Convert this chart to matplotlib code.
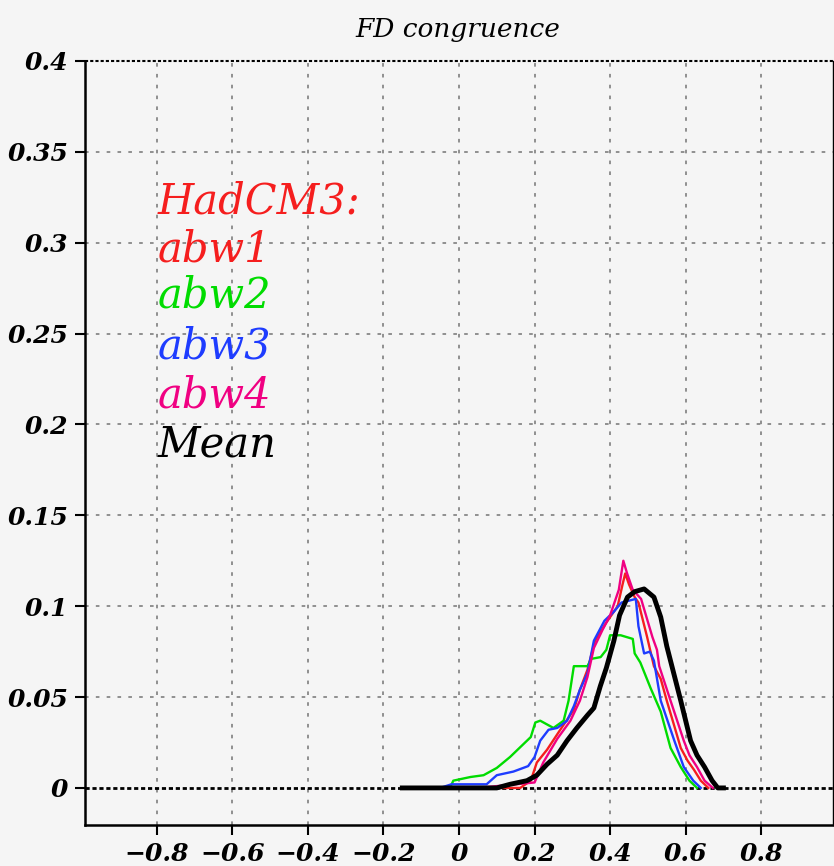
import matplotlib
matplotlib.use("Agg")
import matplotlib.pyplot as plt

# FD congruence histograms (HadCM3 runs)
x_abw1 = [0.0, 0.15, 0.162, 0.19, 0.206, 0.233, 0.268, 0.304, 0.32, 0.34, 0.36, 0.39, 0.42, 0.433, 0.44,
          0.45, 0.465, 0.475, 0.498, 0.516, 0.534, 0.55, 0.57, 0.587, 0.605, 0.622, 0.64, 0.66]
y_abw1 = [0.0, 0.0, 0.0, 0.004, 0.014, 0.021, 0.032, 0.043, 0.054, 0.065, 0.081, 0.091, 0.100, 0.112, 0.118,
          0.112, 0.105, 0.102, 0.083, 0.067, 0.060, 0.048, 0.034, 0.022, 0.015, 0.010, 0.004, 0.0]

x_abw2 = [-0.15, -0.024, -0.015, 0.03, 0.065, 0.10, 0.135, 0.17, 0.19, 0.202, 0.215, 0.25, 0.277, 0.29,
          0.304, 0.34, 0.35, 0.375, 0.39, 0.40, 0.428, 0.46, 0.465, 0.48, 0.507, 0.534, 0.56, 0.587, 0.61, 0.63]
y_abw2 = [0.0, 0.0, 0.004, 0.006, 0.007, 0.011, 0.017, 0.024, 0.028, 0.036, 0.037, 0.033, 0.037, 0.048,
          0.067, 0.067, 0.071, 0.072, 0.076, 0.084, 0.084, 0.082, 0.074, 0.069, 0.055, 0.042, 0.022, 0.0115, 0.004, 0.0]

x_abw3 = [-0.05, -0.02, 0.073, 0.10, 0.144, 0.183, 0.20, 0.215, 0.237, 0.26, 0.286, 0.304, 0.32, 0.34,
          0.357, 0.385, 0.41, 0.43, 0.468, 0.475, 0.49, 0.505, 0.516, 0.534, 0.57, 0.595, 0.62, 0.64]
y_abw3 = [0.0, 0.002, 0.002, 0.007, 0.009, 0.012, 0.017, 0.026, 0.032, 0.033, 0.037, 0.045, 0.054, 0.063,
          0.081, 0.092, 0.097, 0.102, 0.104, 0.089, 0.074, 0.075, 0.070, 0.048, 0.026, 0.0115, 0.004, 0.0]

x_abw4 = [0.05, 0.2, 0.223, 0.26, 0.295, 0.32, 0.34, 0.357, 0.38, 0.40, 0.423, 0.435, 0.445, 0.46, 0.482,
          0.512, 0.524, 0.53, 0.56, 0.595, 0.61, 0.63, 0.65, 0.672]
y_abw4 = [0.0, 0.003, 0.014, 0.027, 0.037, 0.048, 0.061, 0.077, 0.087, 0.095, 0.109, 0.125, 0.118, 0.109, 0.104,
          0.083, 0.076, 0.067, 0.048, 0.026, 0.018, 0.0115, 0.004, 0.0]

x_mean = [-0.15, 0.10, 0.135, 0.18, 0.206, 0.233, 0.26, 0.286, 0.312, 0.34, 0.357, 0.374, 0.39, 0.41, 0.425,
          0.446, 0.465, 0.49, 0.516, 0.534, 0.55, 0.587, 0.613, 0.63, 0.65, 0.67, 0.685, 0.70]
y_mean = [0.0, 0.0, 0.002, 0.004, 0.007, 0.013, 0.018, 0.026, 0.033, 0.040, 0.044, 0.056, 0.066, 0.081, 0.095,
          0.105, 0.108, 0.1095, 0.105, 0.094, 0.078, 0.048, 0.026, 0.018, 0.0115, 0.004, 0.0, 0.0]

series = [("abw1", x_abw1, y_abw1, "#f51e1e", 1.7),
          ("abw2", x_abw2, y_abw2, "#00dc00", 1.7),
          ("abw3", x_abw3, y_abw3, "#1e3cff", 1.7),
          ("abw4", x_abw4, y_abw4, "#f00082", 1.7),
          ("Mean", x_mean, y_mean, "black", 3.5)]

xticks = [-0.8, -0.6, -0.4, -0.2, 0, 0.2, 0.4, 0.6, 0.8]
xticklabels = ["−0.8", "−0.6", "−0.4", "−0.2", "0", "0.2", "0.4", "0.6", "0.8"]
yticks = [0, 0.05, 0.1, 0.15, 0.2, 0.25, 0.3, 0.35, 0.4]
yticklabels = ["0", "0.05", "0.1", "0.15", "0.2", "0.25", "0.3", "0.35", "0.4"]

bg = "#f5f5f5"
tfont = dict(family="DejaVu Serif", style="italic", weight="bold")

fig = plt.figure(figsize=(8.34, 8.66), dpi=100, facecolor=bg)
ax = fig.add_axes([85/834, 1-825/866, 748/834, 764/866], facecolor=bg)

ax.set_xlim(-0.99, 0.99)
ax.set_ylim(-0.0204, 0.4)

for xv in xticks:
    ax.axvline(xv, color="#888888", lw=1.3, ls=(0, (2, 4)), zorder=1)
for yv in yticks[1:-1]:
    ax.axhline(yv, color="#888888", lw=1.3, ls=(0, (2, 4)), zorder=1)
ax.axhline(0, color="black", lw=2.0, ls=(0, (1.5, 1)), zorder=2)
ax.axhline(0.4, color="black", lw=1.5, ls=(0, (1.5, 1)), zorder=2, clip_on=False)

for name, xs, ys, col, lw in series:
    ax.plot(xs, ys, color=col, lw=lw, zorder=3 if name != "Mean" else 4)

ax.spines["top"].set_visible(False)
ax.spines["left"].set_linewidth(1.8)
ax.spines["bottom"].set_linewidth(1.8)
ax.spines["right"].set_linewidth(1.0)

ax.set_xticks(xticks)
ax.set_xticklabels(xticklabels, fontsize=18, **tfont)
ax.set_yticks(yticks)
ax.set_yticklabels(yticklabels, fontsize=18, **tfont)
ax.tick_params(direction="out", length=7, width=1.5, pad=5)

labels = [("HadCM3:", "#f51e1e"), ("abw1", "#f51e1e"), ("abw2", "#00dc00"),
          ("abw3", "#1e3cff"), ("abw4", "#f00082"), ("Mean", "black")]
ypos = [0.801, 0.737, 0.677, 0.611, 0.546, 0.482]
for (txt, col), yy in zip(labels, ypos):
    ax.text(0.0976, yy, txt, transform=ax.transAxes, color=col, fontsize=30,
            family="DejaVu Serif", style="italic", va="baseline", ha="left", zorder=5)

fig.text(458/834, 1-30/866, "FD congruence", ha="center", va="center", fontsize=19,
         family="DejaVu Serif", style="italic")

fig.savefig("out.png", dpi=100, facecolor=bg)
